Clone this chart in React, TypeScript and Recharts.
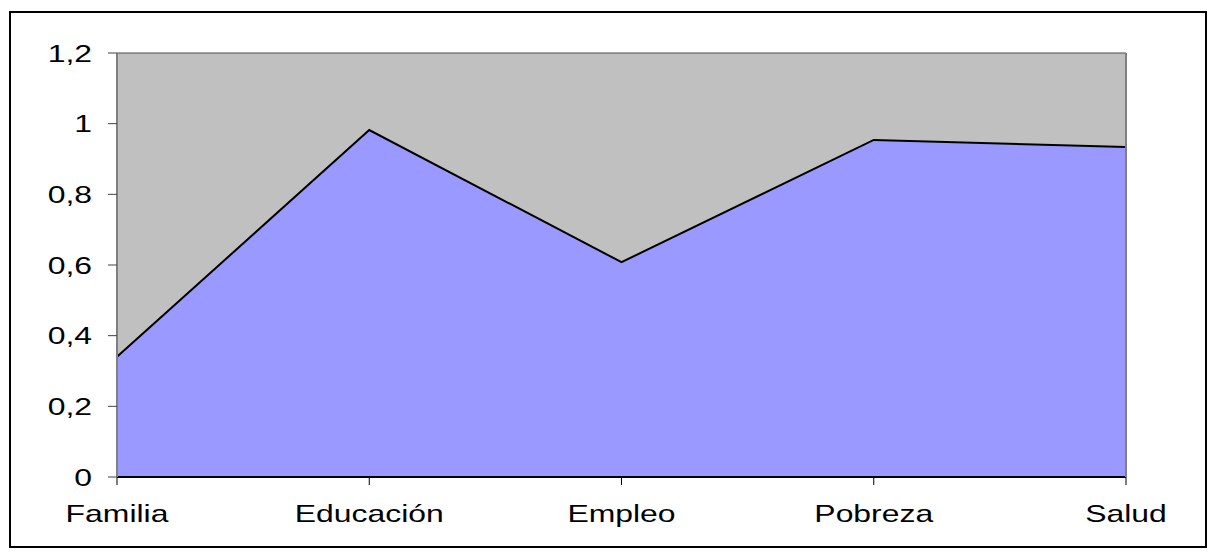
import React from "react";
import {
  AreaChart,
  Area,
  XAxis,
  YAxis,
  CartesianGrid,
} from "recharts";

const categorias = ["Familia", "Educación", "Empleo", "Pobreza", "Salud"];
const valores = [0.34, 0.982, 0.608, 0.954, 0.934];
const yTicks = [0, 0.2, 0.4, 0.6, 0.8, 1, 1.2];

const data = categorias.map((c, i) => ({ name: c, valor: valores[i] }));

const FONT = "'Liberation Sans', Arial, sans-serif";
const STRETCH = 1.33;

// el texto del original está estirado en horizontal
function XTick(props: any) {
  const { x, y, payload } = props;
  return (
    <g transform={`translate(${x},${y}) scale(${STRETCH},1)`}>
      <text textAnchor="middle" dy="0.71em" fontSize={24} fontFamily={FONT} fill="#000">
        {payload.value}
      </text>
    </g>
  );
}

function YTick(props: any) {
  const { x, y, payload } = props;
  return (
    <g transform={`translate(${x},${y}) scale(${STRETCH},1)`}>
      <text textAnchor="end" dy="0.36em" fontSize={24} fontFamily={FONT} fill="#000">
        {String(payload.value).replace(".", ",")}
      </text>
    </g>
  );
}

export default function App() {
  return (
    <div style={{ position: "absolute", left: 0, top: 0, width: 1215, height: 554, background: "#fff" }}>
      <div
        style={{
          position: "absolute",
          left: 9,
          top: 11,
          width: 1194,
          height: 533,
          border: "2px solid #000",
        }}
      />
      <div style={{ position: "absolute", left: 0, top: 0 }}>
        <AreaChart
          width={1215}
          height={554}
          data={data}
          margin={{ top: 53, right: 0, bottom: 0, left: 0 }}
        >
          <CartesianGrid vertical={false} fill="#C0C0C0" stroke="#4a4a4a" strokeWidth={1} />
          <XAxis
            dataKey="name"
            height={77}
            axisLine={{ stroke: "#000", strokeWidth: 2 }}
            tickLine={{ stroke: "#000" }}
            tickSize={8}
            tickMargin={20}
            tick={<XTick />}
            interval={0}
          />
          <YAxis
            yAxisId="left"
            width={117}
            domain={[0, 1.2]}
            ticks={yTicks}
            axisLine={{ stroke: "#808080", strokeWidth: 2 }}
            tickLine={{ stroke: "#404040" }}
            tickSize={9}
            tickMargin={16}
            tick={<YTick />}
            interval={0}
          />
          <YAxis
            yAxisId="right"
            orientation="right"
            width={89}
            domain={[0, 1.2]}
            ticks={yTicks}
            axisLine={{ stroke: "#808080", strokeWidth: 2 }}
            tickLine={false}
            tick={false}
          />
          <Area
            yAxisId="left"
            type="linear"
            dataKey="valor"
            fill="#9999FF"
            fillOpacity={1}
            stroke="#000"
            strokeWidth={2}
            dot={false}
            activeDot={false}
            isAnimationActive={false}
          />
        </AreaChart>
      </div>
    </div>
  );
}
